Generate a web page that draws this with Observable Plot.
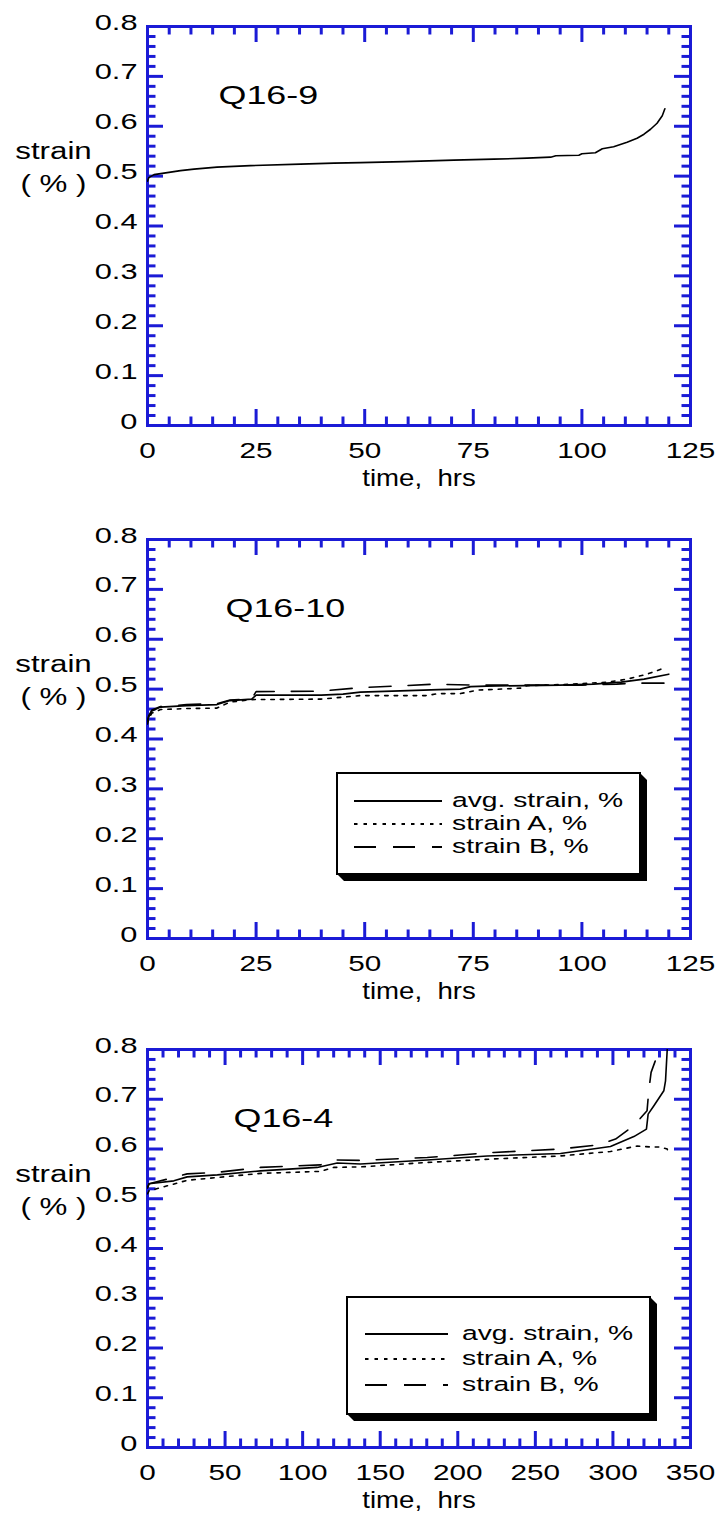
<!DOCTYPE html>
<html>
<head>
<meta charset="utf-8">
<script src="https://cdn.jsdelivr.net/npm/d3@7"></script>
<script src="https://cdn.jsdelivr.net/npm/@observablehq/plot@0.6"></script>
<style>
  body { margin: 0; background: #fff; }
  #charts svg { display: block; }
</style>
</head>
<body>
<div id="charts"></div>
<script>
// ---- Q16-9: average strain only ----
const q169Hours = [0, 0.3, 1.5, 3.8, 7.6, 10.7, 16, 23.7, 35.2, 42.9, 49, 59, 70.5, 79.7, 87.4, 92.8, 94, 99.3, 100, 103.1, 104.7, 107.3, 110.4, 112.7, 114.3, 115.8, 117.3, 118.5, 119.1];
const q169Avg   = [0.490, 0.497, 0.503, 0.506, 0.511, 0.514, 0.518, 0.521, 0.524, 0.526, 0.527, 0.529, 0.532, 0.534, 0.536, 0.538, 0.541, 0.542, 0.545, 0.547, 0.555, 0.559, 0.568, 0.576, 0.584, 0.594, 0.606, 0.621, 0.635];

// ---- Q16-10: average strain and the two gauges ----
const q1610AvgHours = [0, 0.3, 1, 3, 9, 16, 19, 24, 25, 40, 45, 49, 60, 67, 72, 74.4, 78, 95, 102.7, 109, 114.3, 120];
const q1610Avg      = [0.435, 0.445, 0.456, 0.464, 0.467, 0.469, 0.477, 0.480, 0.488, 0.488, 0.490, 0.494, 0.497, 0.499, 0.500, 0.505, 0.506, 0.508, 0.510, 0.514, 0.520, 0.530];
const q1610AHours   = [0, 0.3, 1, 3, 9, 16, 19, 24, 40, 49, 64, 67, 72, 76, 86, 87.4, 98, 106, 110.4, 115, 118.5];
const q1610A        = [0.430, 0.440, 0.452, 0.459, 0.461, 0.462, 0.474, 0.479, 0.480, 0.487, 0.487, 0.491, 0.491, 0.498, 0.502, 0.507, 0.510, 0.514, 0.520, 0.530, 0.541];
const q1610BHours   = [0, 0.3, 1, 3, 9, 16, 19, 24, 25, 40, 49, 57, 66, 75, 100, 108, 112, 120];
const q1610B        = [0.437, 0.447, 0.458, 0.465, 0.469, 0.471, 0.478, 0.481, 0.495, 0.496, 0.503, 0.506, 0.510, 0.508, 0.508, 0.510, 0.512, 0.512];

// ---- Q16-4: average strain and the two gauges ----
const q164AvgHours = [0, 1, 17, 25.6, 45, 72.8, 109.4, 122.3, 137.3, 180.3, 219, 266.2, 298.4, 313.5, 321.6, 322.7, 326.4, 332.8, 333.9, 335];
const q164Avg      = [0.522, 0.530, 0.536, 0.544, 0.548, 0.556, 0.563, 0.572, 0.570, 0.578, 0.586, 0.591, 0.605, 0.625, 0.640, 0.670, 0.687, 0.717, 0.737, 0.800];
const q164AHours   = [0, 1, 12.7, 25.6, 72.8, 111.5, 120, 137.3, 180.3, 223.2, 266.2, 298.4, 315.6, 324.2, 330.7, 335, 335.5];
const q164A        = [0.510, 0.516, 0.526, 0.537, 0.551, 0.555, 0.563, 0.564, 0.573, 0.580, 0.586, 0.595, 0.606, 0.604, 0.604, 0.600, 0.593];
const q164BHours   = [0, 1, 25.6, 45, 72.8, 111.5, 120, 137.3, 180.3, 223.2, 266.2, 289.9, 301.7, 313.5, 322, 323.1, 324.6, 329.6];
const q164B        = [0.522, 0.530, 0.550, 0.553, 0.563, 0.568, 0.578, 0.577, 0.583, 0.593, 0.600, 0.608, 0.620, 0.647, 0.677, 0.717, 0.754, 0.797];

// ---- axis ticks and labels ----
const strainTicks = [0, 0.1, 0.2, 0.3, 0.4, 0.5, 0.6, 0.7, 0.8];
const hourTicks125 = [0, 25, 50, 75, 100, 125];
const hourTicks350 = [0, 50, 100, 150, 200, 250, 300, 350];
const legendLabels = ["avg. strain, %", "strain A, %", "strain B, %"];
const yTitle = "strain\n( % )";
const xTitle = "time,  hrs";

const BLUE = "#1b1bd6";
const FONT = "'Liberation Sans', Arial, Helvetica, sans-serif";
const SOLID = null, DOTTED = "3.5,6", DASHED = "22,17";

// horizontal widening of the lettering
const WIDEN = {yTick: 1.4, xTick: 1.35, title: 1.38, yTitle: 1.36, xTitle: 1.2, legend: 1.45};

const pts = (hours, values) => hours.map((t, i) => ({t, v: values[i]}));

function minorTicks(max, step, every) {
  return d3.range(step, max, step).filter((d) => Math.round(d / step) % every !== 0);
}

function legendMark(box, entries) {
  return (index, scales, values, dims) => {
    const x0 = dims.marginLeft + box.left;
    const y0 = dims.marginTop + box.top;
    const x1 = dims.width - dims.marginRight - box.right;
    const y1 = dims.height - dims.marginBottom - box.bottom;
    const d = 7;
    const g = d3.create("svg:g").attr("text-anchor", "start");
    g.append("polygon")
      .attr("points", [[x1, y0], [x1 + d, y0 + d], [x1 + d, y1 + d], [x0 + d, y1 + d], [x0, y1]].map((p) => p.join(",")).join(" "))
      .attr("fill", "black");
    g.append("rect")
      .attr("x", x0).attr("y", y0).attr("width", x1 - x0).attr("height", y1 - y0)
      .attr("fill", "white").attr("stroke", "black").attr("stroke-width", 2);
    entries.forEach((e, i) => {
      const y = y0 + box.rows[i];
      g.append("line")
        .attr("x1", x0 + box.lineStart).attr("x2", x0 + box.lineEnd)
        .attr("y1", y).attr("y2", y)
        .attr("stroke", "black").attr("stroke-width", 1.8)
        .attr("stroke-dasharray", e.dash);
      g.append("text")
        .attr("transform", `translate(${x0 + box.textStart},${y + 6}) scale(${WIDEN.legend},1)`)
        .attr("font-size", 19.5)
        .attr("fill", "black")
        .text(e.label);
    });
    return g.node();
  };
}

// which widening a Plot-drawn label gets
function widenFor(t) {
  const s = t.textContent;
  if (/^Q16/.test(s)) return WIDEN.title;
  if (s.startsWith("strain")) return WIDEN.yTitle;
  if (s.startsWith("time")) return WIDEN.xTitle;
  if (/^[0-9.]+$/.test(s)) {
    for (let n = t; n && n.getAttribute; n = n.parentNode) {
      const a = n.getAttribute("text-anchor");
      if (a) return a === "end" ? WIDEN.yTick : WIDEN.xTick;
    }
    return WIDEN.xTick;
  }
  return null;
}

function creepPanel({title, titleDx, xMax, xTicks, xMinorStep, xMinorEvery, series, legend, height, marginTop, marginBottom}) {
  const marginLeft = 147, marginRight = 30, width = 720;
  const plotW = width - marginLeft - marginRight;
  const plotH = height - marginTop - marginBottom;
  const xMinor = minorTicks(xMax, xMinorStep, xMinorEvery);
  const xMajorInner = xTicks.filter((d) => d > 0 && d < xMax);
  const yMinor = minorTicks(0.8, 0.02, 5);
  const yMajorInner = strainTicks.filter((d) => d > 0 && d < 0.8);
  const tick = {stroke: BLUE, strokeWidth: 3};
  const minorLen = 8.5, majorLen = 16;

  const marks = [
    // tick marks pointing inward on all four sides
    Plot.tickX(xMinor, {x: (d) => d, ...tick, insetTop: plotH - minorLen}),
    Plot.tickX(xMajorInner, {x: (d) => d, ...tick, insetTop: plotH - majorLen}),
    Plot.tickX(xMinor, {x: (d) => d, ...tick, insetBottom: plotH - minorLen}),
    Plot.tickX(xMajorInner, {x: (d) => d, ...tick, insetBottom: plotH - majorLen}),
    Plot.tickY(yMinor, {y: (d) => d, ...tick, insetRight: plotW - minorLen}),
    Plot.tickY(yMajorInner, {y: (d) => d, ...tick, insetRight: plotW - majorLen}),
    Plot.tickY(yMinor, {y: (d) => d, ...tick, insetLeft: plotW - minorLen}),
    Plot.tickY(yMajorInner, {y: (d) => d, ...tick, insetLeft: plotW - majorLen}),
    Plot.frame({stroke: BLUE, strokeWidth: 3}),
    Plot.axisY(strainTicks, {
      anchor: "left", tickSize: 0, tickPadding: 10, dy: -4, label: null,
      fontSize: 22, fill: "black", textAnchor: "end",
      tickFormat: (d) => (d === 0 ? "0" : d.toFixed(1))
    }),
    Plot.axisX(xTicks, {
      anchor: "bottom", tickSize: 0, tickPadding: 17, label: null,
      fontSize: 22, fill: "black", tickFormat: (d) => String(d)
    }),
    ...series.map((s) =>
      Plot.line(s.data, {x: "t", y: "v", stroke: "black", strokeWidth: 1.6, strokeDasharray: s.dash, clip: true})
    ),
    Plot.text([title], {frameAnchor: "top-left", dx: titleDx, dy: 69, lineAnchor: "middle", textAnchor: "start", fontSize: 26, fill: "black"}),
    Plot.text([yTitle], {frameAnchor: "left", dx: -94, dy: -61, lineAnchor: "middle", textAnchor: "middle", lineHeight: 1.45, fontSize: 23, fill: "black"}),
    Plot.text([xTitle], {frameAnchor: "bottom", dy: 53, lineAnchor: "middle", textAnchor: "middle", fontSize: 23, fill: "black"})
  ];

  const svg = Plot.plot({
    width, height, marginLeft, marginRight, marginTop, marginBottom,
    x: {domain: [0, xMax]},
    y: {domain: [0, 0.8]},
    style: {fontFamily: FONT, color: "black", background: "white", overflow: "visible"},
    marks: legend ? [...marks, legendMark(legend, series.map((s, i) => ({label: legendLabels[i], dash: s.dash})))] : marks
  });

  // widen each Plot-drawn label about its own anchor point
  svg.querySelectorAll("text").forEach((t) => {
    const tr = t.getAttribute("transform") || "";
    if (tr.includes("scale(")) return;
    const k = widenFor(t);
    if (k) t.setAttribute("transform", `${tr} scale(${k},1)`);
  });
  return svg;
}

const root = document.getElementById("charts");

root.appendChild(creepPanel({
  title: "Q16-9", titleDx: 71,
  xMax: 125, xTicks: hourTicks125, xMinorStep: 5, xMinorEvery: 5,
  series: [{data: pts(q169Hours, q169Avg), dash: SOLID}],
  height: 500, marginTop: 26, marginBottom: 75
}));

root.appendChild(creepPanel({
  title: "Q16-10", titleDx: 78,
  xMax: 125, xTicks: hourTicks125, xMinorStep: 5, xMinorEvery: 5,
  series: [
    {data: pts(q1610AvgHours, q1610Avg), dash: SOLID},
    {data: pts(q1610AHours, q1610A), dash: DOTTED},
    {data: pts(q1610BHours, q1610B), dash: DASHED}
  ],
  legend: {left: 190, top: 234, right: 50, bottom: 64, rows: [28, 51, 74], lineStart: 17, lineEnd: 105, textStart: 115},
  height: 515, marginTop: 39, marginBottom: 77
}));

root.appendChild(creepPanel({
  title: "Q16-4", titleDx: 86,
  xMax: 350, xTicks: hourTicks350, xMinorStep: 10, xMinorEvery: 5,
  series: [
    {data: pts(q164AvgHours, q164Avg), dash: SOLID},
    {data: pts(q164AHours, q164A), dash: DOTTED},
    {data: pts(q164BHours, q164B), dash: DASHED}
  ],
  legend: {left: 200, top: 248, right: 40, bottom: 33, rows: [37, 62, 88], lineStart: 18, lineEnd: 101, textStart: 115},
  height: 502, marginTop: 34, marginBottom: 70
}));
</script>
</body>
</html>
